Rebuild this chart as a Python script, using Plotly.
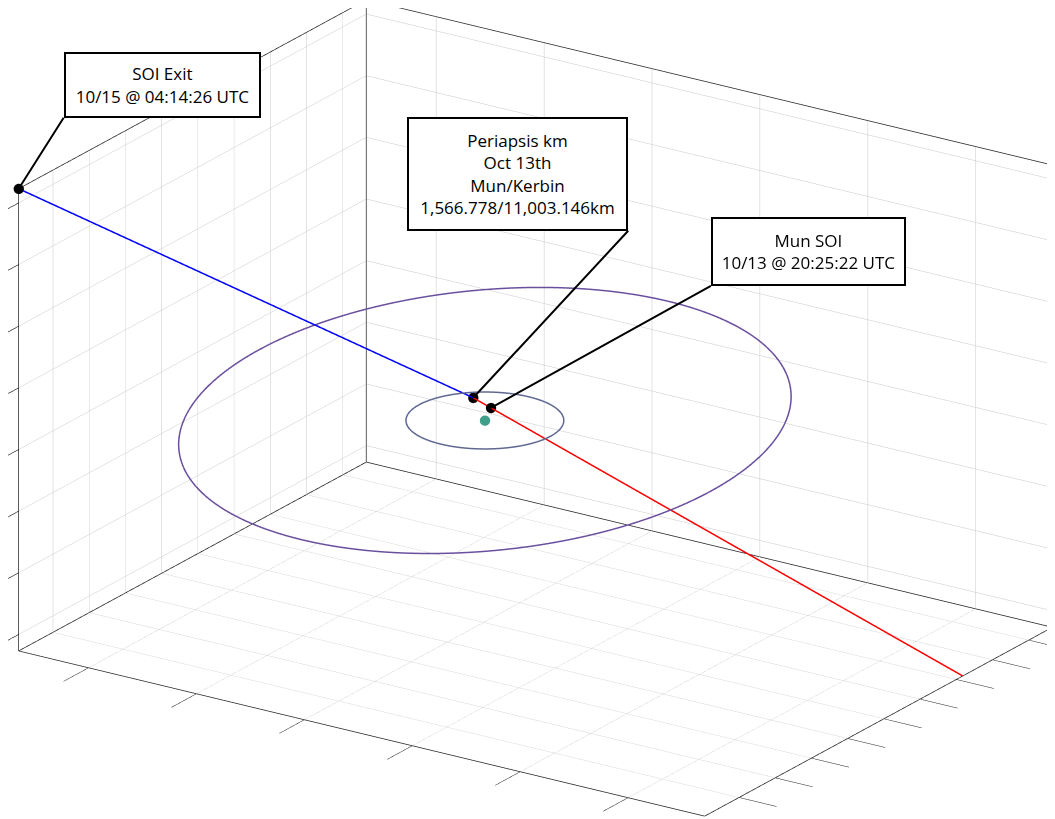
import numpy as np
import plotly.graph_objects as go

# axis limits and tick positions (km)
X_RANGE = [-18236, 13550]
Y_RANGE = [-24752, 23251]
Z_RANGE = [-8534, 6462]
X_TICKS = [-15000, -10000, -5000, 0, 5000, 10000]
Y_TICKS = [-20000, -15000, -10000, -5000, 0, 5000, 10000, 15000, 20000]
Z_TICKS = [-8000, -6000, -4000, -2000, 0, 2000, 4000, 6000]

# orbits: centre + two conjugate semi-diameters (km)
orbit_center = [-4688, -751, -1836]
outer_a = [8414, 17209, 0]
outer_b = [-3636, 10839, 2249]
inner_a = [2533, 3346, 0]
inner_b = [-791, 2362, 489]

# central body
body = [-4688, -751, -1836]

# event points (km)
soi_exit = [-18236, -24752, 6462]
periapsis = [-6403, 2749, -1836]
mun_soi = [-5683, 3042, -2078]
entry = [13550, 10876, -8534]

# trajectory legs
inbound = [entry, mun_soi, periapsis]
outbound = [periapsis, soi_exit]

labels = {
    "soi_exit": "SOI Exit<br>10/15 @ 04:14:26 UTC",
    "periapsis": "Periapsis km<br>Oct 13th<br>Mun/Kerbin<br>1,566.778/11,003.146km",
    "mun_soi": "Mun SOI<br>10/13 @ 20:25:22 UTC",
}


def padded(r, eps=1e-4):
    # tiny pad so marks sitting on the limits are not clipped by the GL renderer
    span = r[1] - r[0]
    return [r[0] - eps * span, r[1] + eps * span]


def orbit(center, a, b, n=361):
    t = np.linspace(0, 2 * np.pi, n)[:, None]
    pts = np.array(center) + np.array(a) * np.cos(t) + np.array(b) * np.sin(t)
    return pts[:, 0], pts[:, 1], pts[:, 2]


def leg(points, color):
    pts = np.array(points)
    return go.Scatter3d(
        x=pts[:, 0], y=pts[:, 1], z=pts[:, 2],
        mode="lines", line=dict(color=color, width=3),
        hoverinfo="skip", showlegend=False,
    )


def frame_edges():
    x0, x1 = X_RANGE
    y0, y1 = Y_RANGE
    z0, z1 = Z_RANGE
    edges = [
        [(x0, y0, z0), (x1, y0, z0)],
        [(x1, y0, z0), (x1, y1, z0)],
        [(x0, y0, z0), (x0, y0, z1)],
        [(x0, y0, z0), (x0, y1, z0)],
        [(x0, y1, z0), (x1, y1, z0)],
        [(x0, y1, z0), (x0, y1, z1)],
        [(x1, y1, z0), (x1, y1, z1)],
        [(x0, y0, z1), (x0, y1, z1)],
        [(x0, y1, z1), (x1, y1, z1)],
    ]
    xs, ys, zs = [], [], []
    for p, q in edges:
        xs += [p[0], q[0], None]
        ys += [p[1], q[1], None]
        zs += [p[2], q[2], None]
    return go.Scatter3d(
        x=xs, y=ys, z=zs, mode="lines",
        line=dict(color="#262626", width=1.5),
        hoverinfo="skip", showlegend=False,
    )


fig = go.Figure()
fig.add_trace(frame_edges())

ox, oy, oz = orbit(orbit_center, outer_a, outer_b)
fig.add_trace(go.Scatter3d(x=ox, y=oy, z=oz, mode="lines",
                           line=dict(color="#6a4f9e", width=3),
                           hoverinfo="skip", showlegend=False))
ix, iy, iz = orbit(orbit_center, inner_a, inner_b)
fig.add_trace(go.Scatter3d(x=ix, y=iy, z=iz, mode="lines",
                           line=dict(color="#5f6892", width=3),
                           hoverinfo="skip", showlegend=False))

fig.add_trace(leg(inbound, "#ff0000"))
fig.add_trace(leg(outbound, "#0000ff"))

fig.add_trace(go.Scatter3d(
    x=[body[0]], y=[body[1]], z=[body[2]], mode="markers",
    marker=dict(size=6, color="#3f9e8c"), hoverinfo="skip", showlegend=False,
))
events = np.array([soi_exit, periapsis, mun_soi])
fig.add_trace(go.Scatter3d(
    x=events[:, 0], y=events[:, 1], z=events[:, 2], mode="markers",
    marker=dict(size=6, color="black"), hoverinfo="skip", showlegend=False,
))

box = dict(
    showarrow=True, arrowhead=0, arrowwidth=2, arrowcolor="black",
    bordercolor="black", borderwidth=2, borderpad=0, bgcolor="white",
    font=dict(family="Open Sans", size=17, color="black"),
    valign="middle", align="center",
)
annotations = [
    dict(x=soi_exit[0], y=soi_exit[1], z=soi_exit[2], text=labels["soi_exit"],
         ax=45, ay=-71, xanchor="left", yanchor="bottom", width=193, height=62, **box),
    dict(x=periapsis[0], y=periapsis[1], z=periapsis[2], text=labels["periapsis"],
         ax=155, ay=-167, xanchor="right", yanchor="bottom", width=217, height=110, **box),
    dict(x=mun_soi[0], y=mun_soi[1], z=mun_soi[2], text=labels["mun_soi"],
         ax=220, ay=-122, xanchor="left", yanchor="bottom", width=191, height=65, **box),
]

axis = dict(
    showticklabels=False, ticks="outside", tickcolor="#262626", tickwidth=1.5,
    showgrid=True, gridcolor="#c8c8c8", gridwidth=1,
    showline=False, zeroline=False, showbackground=False,
    showspikes=False, title=dict(text=""),
)

eye_dir = np.array([0.5167, -0.7761, 0.3617])
up_dir = np.array([-0.2004, 0.3010, 0.9324])
zoom = 2.013
look_at = -0.0232 * up_dir

fig.update_layout(
    width=1055, height=819,
    margin=dict(l=0, r=0, t=0, b=0),
    paper_bgcolor="white",
    hovermode=False,
    scene=dict(
        domain=dict(x=[0, 1], y=[0, 1]),
        xaxis=dict(range=padded(X_RANGE), tickvals=X_TICKS, ticklen=45, **axis),
        yaxis=dict(range=padded(Y_RANGE), tickvals=Y_TICKS, ticklen=45, **axis),
        zaxis=dict(range=padded(Z_RANGE), tickvals=Z_TICKS, ticklen=80, **axis),
        aspectmode="manual",
        aspectratio=dict(x=1 * zoom, y=0.7612 * zoom, z=0.6016 * zoom),
        camera=dict(
            projection=dict(type="orthographic"),
            eye=dict(zip("xyz", (eye_dir * 2.0 + look_at).tolist())),
            center=dict(zip("xyz", look_at.tolist())),
            up=dict(x=0, y=0, z=1),
        ),
        annotations=annotations,
    ),
)

fig.write_html("out.html", config={"displayModeBar": False})
